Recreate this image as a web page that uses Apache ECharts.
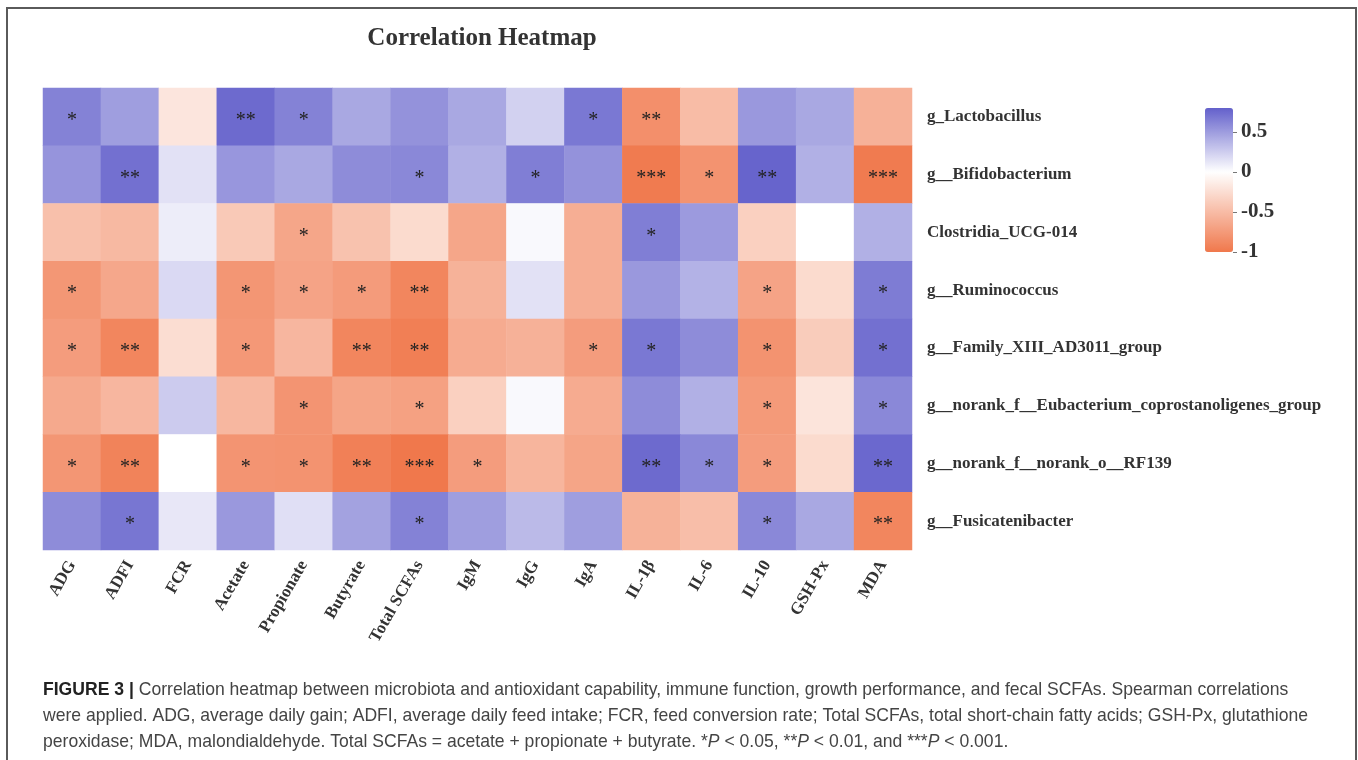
<!DOCTYPE html>
<html>
<head>
<meta charset="utf-8">
<title>Correlation Heatmap</title>
<script src="https://cdn.jsdelivr.net/npm/echarts@6/dist/echarts.min.js"></script>
<style>
  html, body { margin: 0; padding: 0; background: #ffffff; }
  #chart { width: 1358px; height: 760px; }
</style>
</head>
<body>
<div id="chart"></div>
<script>
// Environmental / host variables (columns)
const variables = ['ADG', 'ADFI', 'FCR', 'Acetate', 'Propionate', 'Butyrate', 'Total SCFAs',
  'IgM', 'IgG', 'IgA', 'IL-1β', 'IL-6', 'IL-10', 'GSH-Px', 'MDA'];

// Bacterial genera (rows, top to bottom)
const genera = ['g_Lactobacillus', 'g__Bifidobacterium', 'Clostridia_UCG-014', 'g__Ruminococcus',
  'g__Family_XIII_AD3011_group', 'g__norank_f__Eubacterium_coprostanoligenes_group',
  'g__norank_f__norank_o__RF139', 'g__Fusicatenibacter'];

// Spearman correlation coefficients, one row per genus
const corr = [
  [0.63, 0.49, -0.19, 0.75, 0.63, 0.44, 0.55, 0.44, 0.23, 0.68, -0.83, -0.50, 0.52, 0.44, -0.58],
  [0.54, 0.72, 0.15, 0.53, 0.44, 0.58, 0.60, 0.40, 0.65, 0.55, -0.98, -0.80, 0.78, 0.40, -0.98],
  [-0.47, -0.52, 0.09, -0.40, -0.66, -0.45, -0.27, -0.66, 0.03, -0.60, 0.65, 0.51, -0.35, 0.00, 0.40],
  [-0.77, -0.65, 0.19, -0.78, -0.68, -0.74, -0.90, -0.57, 0.15, -0.60, 0.52, 0.39, -0.68, -0.27, 0.66],
  [-0.73, -0.90, -0.25, -0.76, -0.54, -0.90, -0.95, -0.62, -0.58, -0.73, 0.68, 0.58, -0.80, -0.38, 0.72],
  [-0.64, -0.54, 0.26, -0.53, -0.79, -0.67, -0.70, -0.35, 0.03, -0.62, 0.58, 0.40, -0.75, -0.20, 0.60],
  [-0.78, -0.92, 0.00, -0.79, -0.80, -0.94, -1.00, -0.73, -0.55, -0.67, 0.75, 0.60, -0.73, -0.27, 0.76],
  [0.58, 0.69, 0.12, 0.52, 0.16, 0.47, 0.63, 0.49, 0.35, 0.49, -0.57, -0.48, 0.60, 0.44, -0.90]
];

// Significance marks (* P<0.05, ** P<0.01, *** P<0.001)
const sig = [
  ['*', '', '', '**', '*', '', '', '', '', '*', '**', '', '', '', ''],
  ['', '**', '', '', '', '', '*', '', '*', '', '***', '*', '**', '', '***'],
  ['', '', '', '', '*', '', '', '', '', '', '*', '', '', '', ''],
  ['*', '', '', '*', '*', '*', '**', '', '', '', '', '', '*', '', '*'],
  ['*', '**', '', '*', '', '**', '**', '', '', '*', '*', '', '*', '', '*'],
  ['', '', '', '', '*', '', '*', '', '', '', '', '', '*', '', '*'],
  ['*', '**', '', '*', '*', '**', '***', '*', '', '', '**', '*', '*', '', '**'],
  ['', '*', '', '', '', '', '*', '', '', '', '', '', '*', '', '**']
];

// Colour scale limits and colour-bar tick values
const scaleMin = -1;
const scaleMax = 0.8;
const barTicks = [-1, -0.5, 0, 0.5];

// Diverging palette: orange (negative) -> white (0) -> blue (positive),
// sampled every 0.2 so that white lands exactly on zero.
const NEG = [240, 120, 76];
const POS = [99, 96, 203];
function mix(a, t) {
  const c = a.map(function (v) { return Math.round(255 + (v - 255) * t); });
  return 'rgb(' + c.join(',') + ')';
}
const palette = [];
for (let v = scaleMin; v <= scaleMax + 1e-9; v += 0.2) {
  const r = Math.round(v * 10) / 10;
  palette.push(r < 0 ? mix(NEG, -r / 1) : mix(POS, r / scaleMax));
}

const cells = [];
corr.forEach(function (row, yi) {
  row.forEach(function (val, xi) { cells.push([xi, yi, val]); });
});

const serif = '"Liberation Serif", "Times New Roman", serif';
const sans = '"Liberation Sans", Arial, Helvetica, sans-serif';
const capSize = 19;
const capScale = 0.925;

const chart = echarts.init(document.getElementById('chart'), null, { renderer: 'canvas' });

chart.setOption({
  backgroundColor: '#ffffff',
  animation: false,
  title: {
    text: 'Correlation Heatmap',
    left: 477, top: 21, textAlign: 'center',
    textStyle: { fontFamily: serif, fontWeight: 'bold', fontSize: 25, color: '#333333' }
  },
  grid: [
    { left: 43, top: 88, width: 869, height: 462 },
    { left: 1205, top: 108, width: 28, height: 144 }
  ],
  xAxis: [
    {
      type: 'category', gridIndex: 0, data: variables, position: 'bottom',
      axisLine: { show: false }, axisTick: { show: false }, splitLine: { show: false },
      axisLabel: {
        rotate: 60, margin: 12, interval: 0,
        fontFamily: serif, fontWeight: 'bold', fontSize: 17, color: '#333333'
      }
    },
    { type: 'category', gridIndex: 1, data: [''], show: false }
  ],
  yAxis: [
    {
      type: 'category', gridIndex: 0, data: genera, inverse: true, position: 'right',
      axisLine: { show: false }, axisTick: { show: false }, splitLine: { show: false },
      axisLabel: {
        margin: 15, align: 'left',
        fontFamily: serif, fontWeight: 'bold', fontSize: 17, color: '#333333'
      }
    },
    {
      type: 'value', gridIndex: 1, position: 'right', min: scaleMin, max: scaleMax, interval: 0.5,
      axisLine: { show: false }, splitLine: { show: false },
      axisTick: { show: true, length: 4, inside: false, lineStyle: { color: '#777777', width: 1 } },
      axisLabel: {
        margin: 8, showMaxLabel: false,
        formatter: function (v) { return barTicks.indexOf(v) >= 0 ? String(v) : ''; },
        fontFamily: serif, fontWeight: 'bold', fontSize: 21, color: '#333333'
      }
    }
  ],
  visualMap: {
    type: 'continuous', seriesIndex: 0, min: scaleMin, max: scaleMax,
    calculable: false, realtime: false, orient: 'vertical',
    left: 1205, top: 108, itemWidth: 28, itemHeight: 144, padding: 0,
    text: null, showLabel: false,
    inRange: { color: palette }
  },
  series: [
    {
      type: 'heatmap', xAxisIndex: 0, yAxisIndex: 0, data: cells,
      itemStyle: { borderWidth: 0 },
      emphasis: { disabled: true },
      label: {
        show: true, offset: [0, 4],
        formatter: function (p) { return sig[p.data[1]][p.data[0]]; },
        fontFamily: serif, fontSize: 20, color: '#222222'
      }
    },
    { type: 'line', xAxisIndex: 1, yAxisIndex: 1, data: [], silent: true }
  ],
  graphic: [
    {
      type: 'rect', silent: true,
      shape: { x: 7, y: 8, width: 1349, height: 770 },
      style: { fill: null, stroke: '#5a5a5a', lineWidth: 2 }
    },
    {
      type: 'text', left: 43, top: 680, silent: true, scaleX: capScale,
      style: {
        text: '{b|FIGURE 3 | }Correlation heatmap between microbiota and antioxidant capability, immune function, growth performance, and fecal SCFAs. Spearman correlations',
        font: capSize + 'px ' + sans, fill: '#444444',
        rich: { b: { fontFamily: sans, fontWeight: 'bold', fontSize: capSize, fill: '#222222' } }
      }
    },
    {
      type: 'text', left: 43, top: 706, silent: true, scaleX: capScale,
      style: {
        text: 'were applied. ADG, average daily gain; ADFI, average daily feed intake; FCR, feed conversion rate; Total SCFAs, total short-chain fatty acids; GSH-Px, glutathione',
        font: capSize + 'px ' + sans, fill: '#444444'
      }
    },
    {
      type: 'text', left: 43, top: 732, silent: true, scaleX: capScale,
      style: {
        text: 'peroxidase; MDA, malondialdehyde. Total SCFAs = acetate + propionate + butyrate. *{i|P} < 0.05, **{i|P} < 0.01, and ***{i|P} < 0.001.',
        font: capSize + 'px ' + sans, fill: '#444444',
        rich: { i: { fontFamily: sans, fontStyle: 'italic', fontSize: capSize, fill: '#444444' } }
      }
    }
  ]
});
</script>
</body>
</html>
